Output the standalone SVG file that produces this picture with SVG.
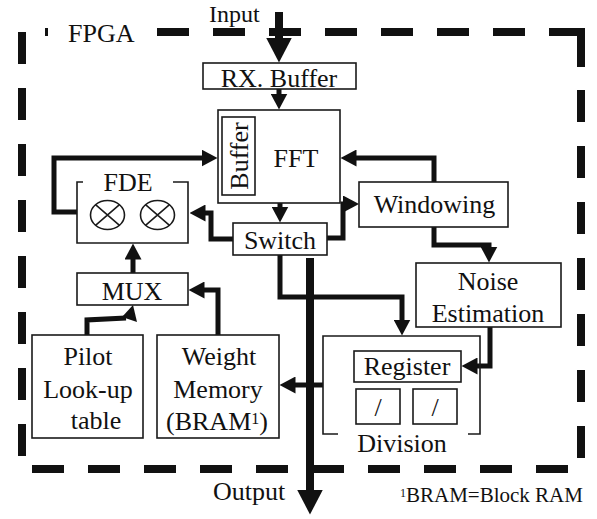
<svg xmlns="http://www.w3.org/2000/svg" width="597" height="519" viewBox="0 0 597 519">
<style>
  .t{font-family:"Liberation Serif","Times New Roman",serif;font-size:26px;fill:#111;text-anchor:middle}
  .box{fill:#fff;stroke:#1a1a1a;stroke-width:1.6}
  .open{fill:none;stroke:#1a1a1a;stroke-width:1.6}
  .dash{fill:none;stroke:#111;stroke-width:8;stroke-dasharray:32 24}
  .wire{fill:none;stroke:#111;stroke-width:5;stroke-linejoin:miter}
  .thick{fill:none;stroke:#111;stroke-width:8}
  .mul{fill:none;stroke:#1a1a1a;stroke-width:1.6}
</style>
<defs>
  <marker id="ah" viewBox="0 0 16 17" refX="0.5" refY="8.5" markerWidth="16" markerHeight="17" markerUnits="userSpaceOnUse" orient="auto">
    <path d="M0,0 L16,8.5 L0,17 Z" fill="#111"/>
  </marker>
  <marker id="ahBig" viewBox="0 0 25 26" refX="0.5" refY="13" markerWidth="25" markerHeight="26" markerUnits="userSpaceOnUse" orient="auto">
    <path d="M0,0 L25,13 L0,26 Z" fill="#111"/>
  </marker>
</defs>

<g id="fpga-border">
  <path d="M45,32 H48" stroke="#111" stroke-width="8"/>
  <path class="dash" d="M157,32 H549"/>
  <path d="M549,32 H581 V67" fill="none" stroke="#111" stroke-width="8"/>
  <path class="dash" d="M581,90 V460"/>
  <path class="dash" d="M32,469 H568"/>
  <path class="dash" d="M22,32 V457"/>
  <text class="t" x="68" y="42" style="text-anchor:start">FPGA</text>
</g>

<g id="connectors">
  <path class="thick" d="M279,12 V38" marker-end="url(#ahBig)"/>
  <path class="wire" d="M279,89 V94" marker-end="url(#ah)"/>
  <path class="wire" d="M280,203 V207" marker-end="url(#ah)"/>
  <path class="wire" d="M77,212 H54 V158 H202" marker-end="url(#ah)"/>
  <path class="wire" d="M233,239 H211 V213 H205" marker-end="url(#ah)"/>
  <path class="wire" d="M327,238 H343 V204 H343.5" marker-end="url(#ah)"/>
  <path class="wire" d="M434,182 V158 H356" marker-end="url(#ah)"/>
  <path class="wire" d="M434,227 V245 H489 V247" marker-end="url(#ah)"/>
  <path class="wire" d="M490,327 V366 H477" marker-end="url(#ah)"/>
  <path class="wire" d="M280,255 V297 H402 V320" marker-end="url(#ah)"/>
  <path class="wire" d="M323,385 H295" marker-end="url(#ah)"/>
  <path class="wire" d="M218,335 V290 H204" marker-end="url(#ah)"/>
  <path class="wire" d="M133,273 V259" marker-end="url(#ah)"/>
  <path class="wire" d="M87,336 V320 L126,318"/>
  <polygon points="122,317 133,305 137,322" fill="#111"/>
  <path class="thick" d="M310,258 V490" marker-end="url(#ahBig)"/>
</g>

<g id="input-label">
  <text class="t" x="209" y="22" style="text-anchor:start;font-size:24px">Input</text>
</g>

<g id="rx-buffer">
  <rect class="box" x="203" y="63" width="153" height="26"/>
  <text class="t" x="279" y="87">RX. Buffer</text>
</g>

<g id="fft">
  <rect class="box" x="218" y="110" width="122" height="93"/>
  <rect class="box" x="222" y="117" width="33" height="78"/>
  <text class="t" transform="translate(248,156) rotate(-90)">Buffer</text>
  <text class="t" x="296" y="167">FFT</text>
</g>

<g id="fde">
  <path class="open" d="M83,182 H77 V243 H188 V182 H173"/>
  <text class="t" x="128" y="191">FDE</text>
  <ellipse class="mul" cx="107.5" cy="215" rx="17" ry="14.5"/>
  <path class="mul" d="M95.5,204.7 L119.5,225.3 M119.5,204.7 L95.5,225.3"/>
  <ellipse class="mul" cx="157.5" cy="215" rx="17" ry="14.5"/>
  <path class="mul" d="M145.5,204.7 L169.5,225.3 M169.5,204.7 L145.5,225.3"/>
</g>

<g id="switch">
  <rect class="box" x="233" y="223" width="94" height="32"/>
  <text class="t" x="280" y="249">Switch</text>
</g>

<g id="windowing">
  <rect class="box" x="359" y="182" width="149" height="45"/>
  <text class="t" x="434.5" y="213">Windowing</text>
</g>

<g id="noise-estimation">
  <rect class="box" x="416" y="263" width="145" height="64"/>
  <text class="t" x="488" y="290">Noise</text>
  <text class="t" x="488" y="322">Estimation</text>
</g>

<g id="division">
  <path class="open" d="M338,434 H323 V336 H480 V434 H468"/>
  <text class="t" x="402" y="452">Division</text>
  <g id="register">
    <rect class="box" x="354" y="351" width="107" height="31"/>
    <text class="t" x="407" y="375">Register</text>
  </g>
  <g id="div1">
    <rect class="box" x="356" y="389" width="44" height="35"/>
    <text class="t" x="378" y="416">/</text>
  </g>
  <g id="div2">
    <rect class="box" x="413" y="389" width="44" height="35"/>
    <text class="t" x="435" y="416">/</text>
  </g>
</g>

<g id="mux">
  <rect class="box" x="77" y="273" width="111" height="32"/>
  <text class="t" x="132" y="300">MUX</text>
</g>

<g id="pilot-lut">
  <rect class="box" x="32" y="335" width="111" height="103"/>
  <text class="t" x="88" y="365">Pilot</text>
  <text class="t" x="88" y="398">Look-up</text>
  <text class="t" x="96" y="429">table</text>
</g>

<g id="weight-memory">
  <rect class="box" x="157" y="335" width="122" height="103"/>
  <text class="t" x="219" y="365">Weight</text>
  <text class="t" x="218" y="398">Memory</text>
  <text class="t" x="217" y="430">(BRAM<tspan font-size="16" dy="-6">1</tspan><tspan dy="6">)</tspan></text>
</g>

<g id="output-label">
  <text class="t" x="213" y="500" style="text-anchor:start">Output</text>
</g>

<g id="footnote">
  <text class="t" x="400" y="502" style="text-anchor:start;font-size:21px"><tspan font-size="12" dy="-5">1</tspan><tspan dy="5">BRAM=Block RAM</tspan></text>
</g>
</svg>
